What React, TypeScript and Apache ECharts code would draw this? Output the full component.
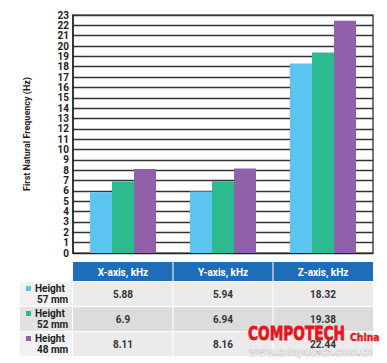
import React, { useEffect, useRef } from "react";
import * as echarts from "echarts";

const categories = ["X-axis, kHz", "Y-axis, kHz", "Z-axis, kHz"];
const seriesNames = ["Height 57 mm", "Height 52 mm", "Height 48 mm"];
const seriesLabelLines = [["Height", "57 mm"], ["Height", "52 mm"], ["Height", "48 mm"]];
const h57 = [5.88, 5.94, 18.32];
const h52 = [6.9, 6.94, 19.38];
const h48 = [8.11, 8.16, 22.44];
const seriesValues = [h57, h52, h48];
const seriesColors = ["#5cc4f0", "#2cba8f", "#9061aa"];
const yAxisName = "First Natural Frequency (Hz)";

export default function App() {
  const ref = useRef<HTMLDivElement>(null);
  useEffect(() => {
    if (!ref.current) return;
    const chart = echarts.init(ref.current, null, { renderer: "svg" });
    const gl = 73, gw = 300, gt = 15, gh = 238;
    const colW = gw / categories.length;
    const font = "Roboto";
    const g: any[] = [];
    // table header
    const hTop = 262, hH = 19;
    g.push({ type: "rect", shape: { x: gl, y: hTop, width: gw, height: hH }, style: { fill: "#1f6db7" } });
    categories.forEach((c, i) => {
      if (i > 0) g.push({ type: "rect", shape: { x: gl + i * colW - 0.5, y: hTop, width: 1, height: hH }, style: { fill: "#fff" } });
      g.push({ type: "text", x: gl + i * colW + colW / 2, y: hTop + hH / 2 + 0.5, style: { text: c, fill: "#fff", font: `bold 10px ${font}`, textAlign: "center", textVerticalAlign: "middle" } });
    });
    const rTop = 282, rH = 25;
    seriesValues.forEach((vals, r) => {
      const y = rTop + r * rH;
      const bg = r === 1 ? "#dcdcdc" : "#ebebeb";
      const bgL = r === 1 ? "#e2e2e2" : "#f1f1f1";
      g.push({ type: "rect", shape: { x: 20, y, width: 52, height: rH - 1 }, style: { fill: bgL } });
      g.push({ type: "rect", shape: { x: gl, y, width: gw, height: rH - 1 }, style: { fill: bg } });
      g.push({ type: "rect", shape: { x: 26, y: y + 4, width: 5, height: 5 }, style: { fill: seriesColors[r] } });
      g.push({ type: "text", x: 35, y: y + 6.5, style: { text: seriesLabelLines[r][0], fill: "#222", font: `bold 10px ${font}`, textAlign: "left", textVerticalAlign: "middle" } });
      g.push({ type: "text", x: 37, y: y + 17.5, style: { text: seriesLabelLines[r][1], fill: "#222", font: `bold 10px ${font}`, textAlign: "left", textVerticalAlign: "middle" } });
      vals.forEach((v, i) => {
        if (i > 0) g.push({ type: "rect", shape: { x: gl + i * colW - 0.5, y, width: 1, height: rH - 1 }, style: { fill: "#fff" } });
        g.push({ type: "text", x: gl + i * colW + colW / 2, y: y + rH / 2, style: { text: String(v), fill: "#333", font: `bold 10px ${font}`, textAlign: "center", textVerticalAlign: "middle" } });
      });
    });
    // watermark
    g.push({ type: "text", x: 248, y: 343, scaleX: 0.72, style: { text: "COMPOTECH", fill: "#e8141b", stroke: "#e8141b", lineWidth: 0.8, font: "bold 19px 'DejaVu Sans'", textAlign: "left", textVerticalAlign: "bottom" } });
    g.push({ type: "text", x: 350, y: 343, scaleX: 0.85, style: { text: "China", fill: "#e8141b", stroke: "#e8141b", lineWidth: 0.4, font: "bold 11px 'DejaVu Sans'", textAlign: "left", textVerticalAlign: "bottom" } });
    g.push({ type: "text", x: 249, y: 357, scaleX: 0.92, style: { text: "www.compotech.com.cn", fill: "#fff", stroke: "#8a8a8a", lineWidth: 0.6, font: "11px 'DejaVu Sans'", textAlign: "left", textVerticalAlign: "bottom" } });

    chart.setOption({
      animation: false,
      backgroundColor: "#fff",
      grid: { left: gl, top: gt, width: gw, height: gh, show: true, borderColor: "#222", borderWidth: 1.2, backgroundColor: "transparent" },
      xAxis: {
        type: "category",
        data: categories,
        axisLabel: { show: false },
        axisTick: { show: false },
        axisLine: { lineStyle: { color: "#222", width: 1.2 } },
      },
      yAxis: {
        type: "value",
        min: 0,
        max: 23,
        interval: 1,
        name: yAxisName,
        nameLocation: "middle",
        nameRotate: 90,
        nameGap: 42,
        nameTextStyle: { fontFamily: font, fontWeight: "bold", fontSize: 9, color: "#222" },
        axisLine: { show: true, lineStyle: { color: "#222", width: 1.5 } },
        axisTick: { show: false },
        axisLabel: { fontFamily: font, fontWeight: "bold", fontSize: 10, color: "#222", margin: 4 },
        splitLine: { lineStyle: { color: "#333", width: 1.3 } },
      },
      series: seriesValues.map((vals, i) => ({
        type: "bar",
        name: seriesNames[i],
        data: vals,
        barWidth: 22,
        barGap: "0%",
        itemStyle: { color: seriesColors[i] },
      })),
      graphic: g,
    });
    return () => chart.dispose();
  }, []);
  return <div ref={ref} style={{ position: "fixed", left: 0, top: 0, width: 387, height: 363 }} />;
}
